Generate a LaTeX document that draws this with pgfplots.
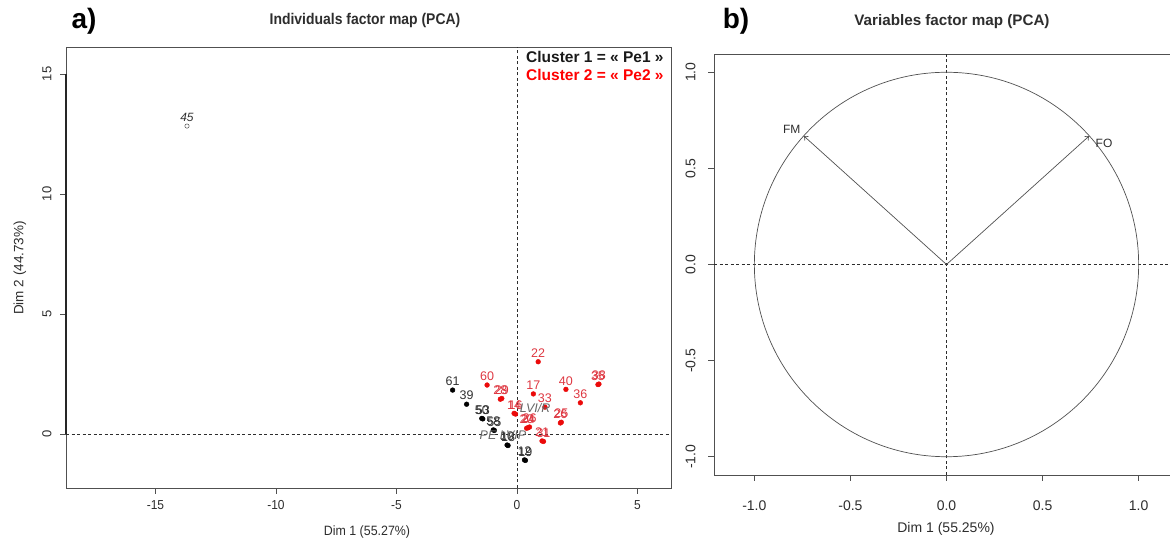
\documentclass[border=0pt]{standalone}
\usepackage{pgfplots}
\pgfplotsset{compat=1.18}
\usepackage{pgfplotstable}
\usetikzlibrary{arrows.meta}
\usepackage{fontspec}
\setmainfont{Liberation Sans}

\definecolor{rdot}{RGB}{235,10,10}
\definecolor{rlab}{RGB}{222,55,65}
\definecolor{blab}{RGB}{50,50,50}
\definecolor{axc}{RGB}{80,80,80}
\definecolor{txc}{RGB}{45,45,45}

% Cluster 2 (red)
\pgfplotstableread{
x y lab
0.88 3.01 22
3.40 2.08 38
3.36 2.06 35
2.03 1.86 40
2.63 1.30 36
0.68 1.67 17
1.16 1.12 33
-1.24 2.04 60
-0.69 1.45 28
-0.63 1.48 29
-0.12 0.86 14
-0.06 0.83 16
0.40 0.24 20
0.46 0.26 24
0.52 0.29 26
1.84 0.49 25
1.80 0.46 26
1.04 -0.29 21
1.10 -0.31 31
}\redpts

% Cluster 1 (black)
\pgfplotstableread{
x y lab
-2.67 1.83 61
-2.09 1.24 39
-1.46 0.65 50
-1.42 0.63 53
-0.98 0.17 58
-0.94 0.15 55
-0.41 -0.46 10
-0.37 -0.48 18
0.31 -1.08 12
0.35 -1.10 19
}\blackpts

% italic labelled individuals
\pgfplotstableread{
x y lab
-13.69 12.83 45
}\suppts

\pgfplotstableread[col sep=comma]{
x,y,lab
-0.58,-0.40,PE LVIP
0.75,0.71,LVI/R
}\supptsb

% variables
\pgfplotstableread{
x y
0 0
0.743 0.669
}\varFO
\pgfplotstableread{
x y
0 0
-0.743 0.669
}\varFM

\pgfplotsset{
  rstyle/.style={
    scale only axis,
    axis line style={axc, line width=0.7pt},
    tick style={axc, line width=0.7pt},
    tick align=outside,
    major tick length=6pt,
    xtick pos=left, ytick pos=left,
    ticklabel style={font=\fontsize{13}{15}\selectfont, text=txc},
    yticklabel style={rotate=90, anchor=south},
  }
}

\begin{document}
\begin{tikzpicture}[x=1pt,y=1pt]
\useasboundingbox (0,0) rectangle (1170,540);
\clip (0,0) rectangle (1170,540);

% ---------- panel a ----------
\begin{axis}[rstyle, clip=false,
  at={(66pt,52pt)}, anchor=south west,
  width=605pt, height=441pt,
  xmin=-18.71, xmax=6.39, ymin=-2.25, ymax=16.125,
  xtick={-15,-10,-5,0,5}, xticklabels={-15,-10,-5,0,5},
  ytick={0,5,10,15}, yticklabels={0,5,10,15},
  xticklabel style={yshift=-3pt, xscale=0.92},
  yticklabel style={yshift=5pt},
]
\draw[line width=1.5pt, black!85] (axis cs:-18.71,0) -- (axis cs:-18.71,15);
\addplot[txc, line width=0.6pt, dash pattern=on 3pt off 2.5pt] coordinates {(0,-2.25) (0,16.125)};
\addplot[txc, line width=0.6pt, dash pattern=on 3pt off 2.5pt] coordinates {(-18.71,0) (6.39,0)};
\addplot[only marks, mark=*, mark size=2.4pt, color=black,
  nodes near coords, point meta=explicit symbolic,
  every node near coord/.style={font=\fontsize{12.5}{14}\selectfont, text=blab, anchor=south, inner sep=0pt, yshift=4pt}]
  table[x=x, y=y, meta=lab]{\blackpts};
\addplot[only marks, mark=*, mark size=2.4pt, color=rdot,
  nodes near coords, point meta=explicit symbolic,
  every node near coord/.style={font=\fontsize{12.5}{14}\selectfont, text=rlab, anchor=south, inner sep=0pt, yshift=4pt}]
  table[x=x, y=y, meta=lab]{\redpts};
\addplot[only marks, mark=o, mark size=2.2pt, color=black!80,
  nodes near coords, point meta=explicit symbolic,
  every node near coord/.style={font=\fontsize{12}{14}\selectfont\itshape, text=blab, anchor=south, inner sep=0pt, yshift=4pt}]
  table[x=x, y=y, meta=lab]{\suppts};
\addplot[only marks, mark=none,
  nodes near coords, point meta=explicit symbolic,
  every node near coord/.style={font=\fontsize{12.5}{14}\selectfont\itshape, text=black!60, anchor=south, inner sep=0pt, yshift=4pt}]
  table[x=x, y=y, meta=lab]{\supptsb};
\end{axis}

\node[font=\fontsize{28}{32}\selectfont\bfseries, text=black] at (84,519) {a)};
\node[font=\fontsize{15.5}{18}\selectfont\bfseries, text=txc, xscale=0.9] at (365,519) {Individuals factor map (PCA)};
\node[font=\fontsize{13.5}{16}\selectfont, text=txc, xscale=0.92] at (367,8) {Dim 1 (55.27\%)};
\node[font=\fontsize{13.5}{16}\selectfont, text=txc, rotate=90] at (20,272) {Dim 2 (44.73\%)};
\node[anchor=west, font=\fontsize{15.5}{18}\selectfont\bfseries, text=black!90, inner sep=0pt] at (526,483) {Cluster 1 = « Pe1 »};
\node[anchor=west, font=\fontsize{15.5}{18}\selectfont\bfseries, text=red, inner sep=0pt] at (526,465) {Cluster 2 = « Pe2 »};

% ---------- panel b ----------
\begin{axis}[rstyle,
  at={(714pt,65pt)}, anchor=south west,
  width=465pt, height=421pt,
  xmin=-1.21, xmax=1.21, ymin=-1.095, ymax=1.095,
  xtick={-1,-0.5,0,0.5,1}, xticklabels={-1.0,-0.5,0.0,0.5,1.0},
  ytick={-1,-0.5,0,0.5,1}, yticklabels={-1.0,-0.5,0.0,0.5,1.0},
  ticklabel style={font=\fontsize{14}{16}\selectfont},
  xticklabel style={yshift=-16pt},
  yticklabel style={yshift=9pt},
]
\addplot[txc, line width=0.6pt, dash pattern=on 3pt off 2.5pt] coordinates {(0,-1.095) (0,1.095)};
\addplot[txc, line width=0.6pt, dash pattern=on 3pt off 2.5pt] coordinates {(-1.21,0) (1.21,0)};
\draw[axc, line width=0.7pt] (axis cs:0,0) circle[radius=1];
\addplot[axc, line width=0.7pt, -{To[length=4pt,width=6pt]}] table[x=x,y=y]{\varFO};
\addplot[axc, line width=0.7pt, -{To[length=4pt,width=6pt]}] table[x=x,y=y]{\varFM};
\node[font=\fontsize{12}{14}\selectfont, text=txc] at (axis cs:-0.805,0.705) {FM};
\node[font=\fontsize{12}{14}\selectfont, text=txc] at (axis cs:0.82,0.628) {FO};
\end{axis}

\node[font=\fontsize{28}{32}\selectfont\bfseries, text=black] at (736,519) {b)};
\node[font=\fontsize{15.2}{18}\selectfont\bfseries, text=txc] at (952,518) {Variables factor map (PCA)};
\node[font=\fontsize{14}{16}\selectfont, text=txc] at (946,11) {Dim 1 (55.25\%)};
\end{tikzpicture}
\end{document}
